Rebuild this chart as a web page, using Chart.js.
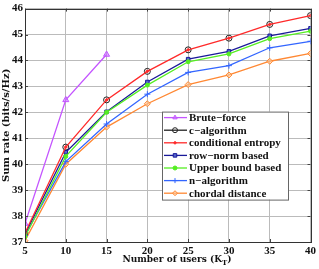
<!DOCTYPE html>
<html lang="en">
<head>
<meta charset="UTF-8">
<title>Sum rate vs users</title>
<script src="https://cdn.jsdelivr.net/npm/chart.js"></script>
<style>
  body { margin: 0; background: #fff; }
  #wrap { position: relative; width: 319px; height: 269px; }
  #xtitle { position: absolute; left: 0; width: 354px; top: 254px; text-align: center;
            font: bold 9px "DejaVu Serif", serif; color: #111; }
  #xtitle sub { font-size: 7px; }
</style>
</head>
<body>
<div id="wrap">
  <canvas id="c" width="319" height="269"></canvas>
  <div id="xtitle">Number of users (K<sub>T</sub>)</div>
</div>
<script>
// users K_T
const users = [5, 10, 15, 20, 25, 30, 35, 40];
const bruteForce = [37.71, 42.48, 44.23];
const cAlgorithm = [37.35, 40.66, 42.48, 43.58, 44.41, 44.86, 45.39, 45.73];
const condEntropy = [37.35, 40.66, 42.48, 43.58, 44.41, 44.86, 45.39, 45.73];
const rowNorm = [37.3, 40.46, 42.02, 43.17, 44.05, 44.35, 44.95, 45.24];
const upperBound = [37.2, 40.3, 42.0, 43.05, 43.95, 44.25, 44.84, 45.13];
const nAlgorithm = [37.25, 40.1, 41.55, 42.7, 43.54, 43.8, 44.49, 44.74];
const chordal = [37.05, 40.0, 41.43, 42.33, 43.07, 43.44, 43.97, 44.27];
const yTicks = [37, 38, 39, 40, 41, 42, 43, 44, 45, 46];

const serif = '"Liberation Serif", serif';
const wide = '"DejaVu Serif", serif';

function pts(vals) { return vals.map((v, i) => ({ x: users[i], y: v })); }

function ds(label, vals, color, style, radius, fill) {
  return {
    label, data: pts(vals), borderColor: color, backgroundColor: fill,
    pointBorderColor: color, pointBackgroundColor: fill,
    pointStyle: style, pointRadius: radius, pointBorderWidth: 1,
    borderWidth: 1.3, tension: 0
  };
}

const datasets = [
  ds('Brute\u2212force', bruteForce, '#c455ff', 'triangle', 3.5, 'rgba(200,120,255,0.6)'),
  ds('conditional entropy', condEntropy, '#ff2a2a', 'rectRot', 1.5, '#ff2a2a'),
  ds('Upper bound based', upperBound, '#55ee22', 'circle', 2, '#55ee22'),
  ds('row\u2212norm based', rowNorm, '#1a1a99', 'rect', 2.5, '#5566cc'),
  ds('n\u2212algorithm', nAlgorithm, '#3366ff', 'cross', 3, '#3366ff'),
  ds('chordal distance', chordal, '#ff8833', 'rectRot', 3, 'rgba(255,200,150,0.6)'),
  ds('c\u2212algorithm', cAlgorithm, 'rgba(0,0,0,0)', 'circle', 3, 'rgba(0,0,0,0)')
];
// c-algorithm: black open circles on the red line
datasets[6].pointBorderColor = '#222';
datasets[6].showLine = false;

const legendOrder = [0, 6, 1, 3, 2, 4, 5];

const legendBox = {
  id: 'legendBox',
  afterDatasetsDraw(chart) {
    const ctx = chart.ctx;
    const a = chart.chartArea;
    const x0 = a.left + 137, y0 = a.top + 103, w = 126, h = 88;
    ctx.save();
    ctx.fillStyle = '#fff';
    ctx.fillRect(x0, y0, w, h);
    ctx.strokeStyle = '#666';
    ctx.lineWidth = 1;
    ctx.strokeRect(x0 + 0.5, y0 + 0.5, w, h);
    ctx.font = 'bold 11px ' + serif;
    ctx.textBaseline = 'middle';
    legendOrder.forEach((k, i) => {
      const d = chart.data.datasets[k];
      const y = y0 + 6 + i * 12.6;
      const lc = k === 6 ? '#222' : d.borderColor;
      ctx.strokeStyle = lc;
      ctx.lineWidth = 1.3;
      ctx.beginPath();
      ctx.moveTo(x0 + 2, y);
      ctx.lineTo(x0 + 25, y);
      ctx.stroke();
      ctx.strokeStyle = d.pointBorderColor;
      ctx.fillStyle = d.pointBackgroundColor;
      ctx.lineWidth = 1;
      Chart.helpers.drawPoint(ctx, { pointStyle: d.pointStyle, radius: Math.min(d.pointRadius, 2.5), borderWidth: 1 }, x0 + 13, y);
      ctx.fillStyle = '#111';
      ctx.fillText(d.label, x0 + 27, y + 0.5);
    });
    ctx.restore();
  }
};

const frame = {
  id: 'frame',
  afterDraw(chart) {
    const ctx = chart.ctx, a = chart.chartArea;
    const xs = chart.scales.x, ys = chart.scales.y;
    ctx.save();
    ctx.strokeStyle = '#444';
    ctx.lineWidth = 1;
    // inward tick marks on all four sides
    ctx.beginPath();
    users.forEach(u => {
      const px = Math.round(xs.getPixelForValue(u)) + 0.5;
      ctx.moveTo(px, a.bottom); ctx.lineTo(px, a.bottom - 3);
      ctx.moveTo(px, a.top); ctx.lineTo(px, a.top + 3);
    });
    yTicks.forEach(t => {
      const py = Math.round(ys.getPixelForValue(t)) + 0.5;
      ctx.moveTo(a.left, py); ctx.lineTo(a.left + 3, py);
      ctx.moveTo(a.right, py); ctx.lineTo(a.right - 3, py);
    });
    ctx.stroke();
    ctx.strokeStyle = '#333';
    ctx.strokeRect(Math.round(a.left) + 0.5, Math.round(a.top) + 0.5,
                   Math.round(a.right - a.left), Math.round(a.bottom - a.top));
    ctx.restore();
  }
};

new Chart(document.getElementById('c'), {
  type: 'line',
  data: { datasets },
  options: {
    responsive: false,
    animation: false,
    layout: { padding: { top: 2, right: 3, left: 0, bottom: 0 } },
    plugins: { legend: { display: false }, tooltip: { enabled: false } },
    scales: {
      x: {
        type: 'linear', min: 5, max: 40,
        afterBuildTicks: s => { s.ticks = users.map(v => ({ value: v })); },
        afterFit: s => { s.height = 27; },
        grid: { color: '#bbb', borderDash: [1, 2], drawTicks: false },
        border: { display: false },
        ticks: { padding: 3, color: '#111', font: { family: serif, size: 11, weight: 'bold' } }
      },
      y: {
        min: 37, max: 46,
        afterBuildTicks: s => { s.ticks = yTicks.map(v => ({ value: v })); },
        afterFit: s => { s.width = 25; },
        grid: { color: '#bbb', borderDash: [1, 2], drawTicks: false },
        border: { display: false },
        title: { display: true, text: 'Sum rate (bits/s/Hz)', padding: 0, color: '#111',
                 font: { family: wide, size: 10, weight: 'bold' } },
        ticks: { padding: 2, color: '#111', font: { family: serif, size: 11, weight: 'bold' } }
      }
    }
  },
  plugins: [frame, legendBox]
});
</script>
</body>
</html>
